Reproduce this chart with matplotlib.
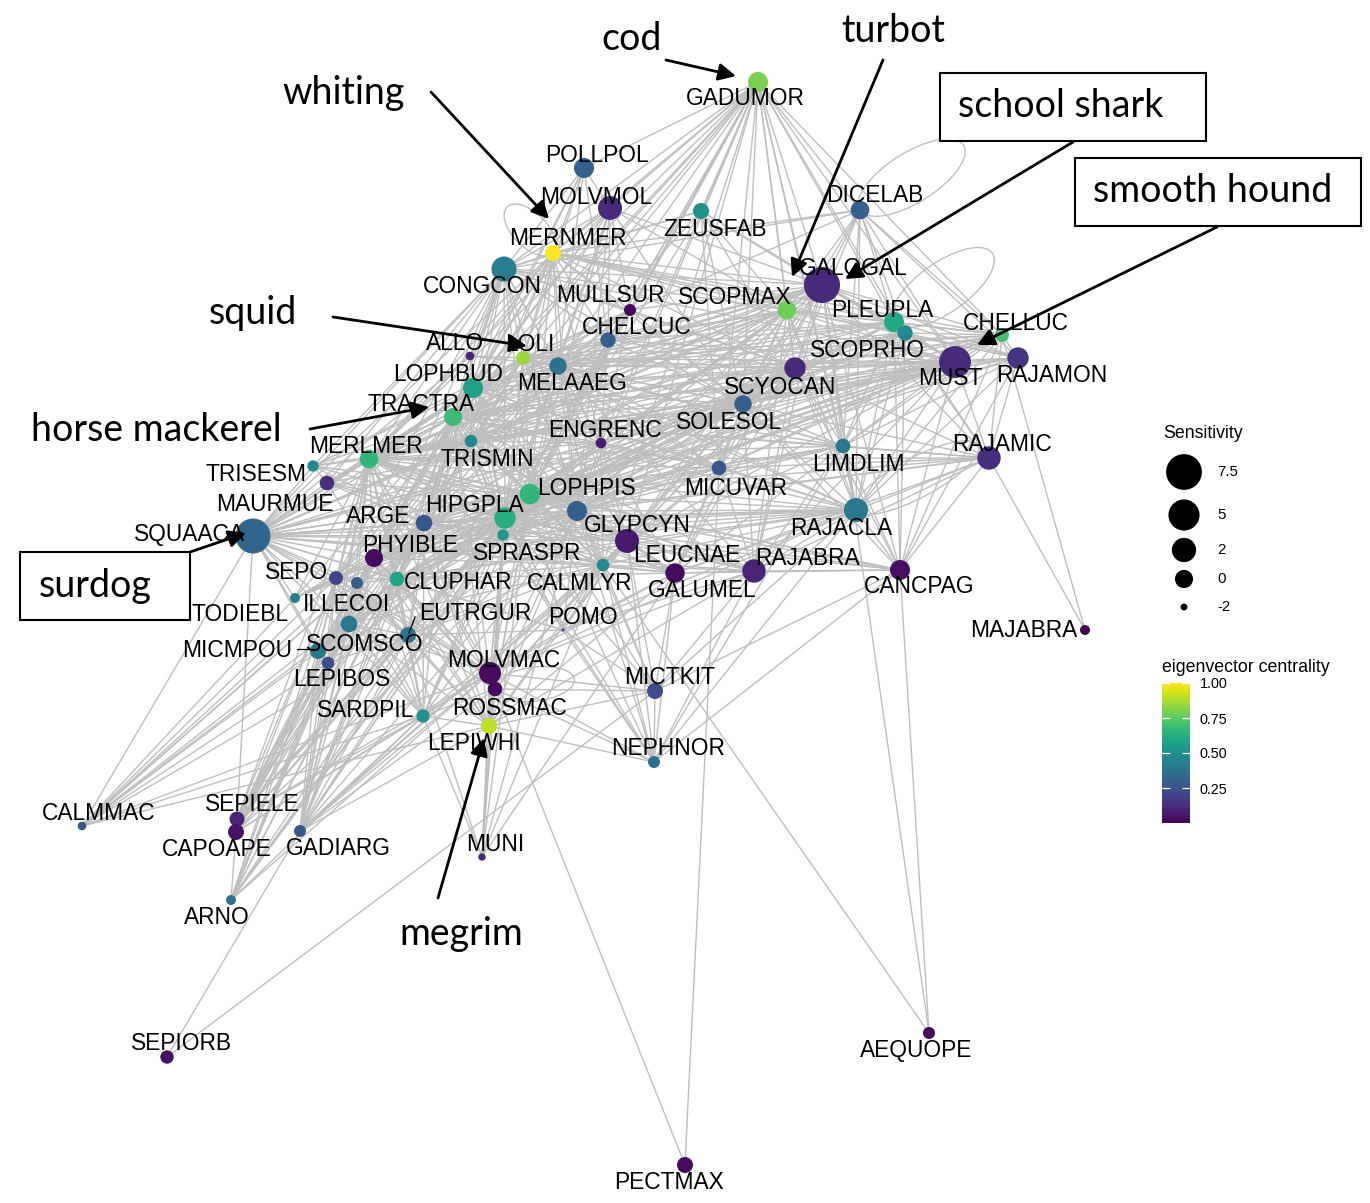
import numpy as np
import matplotlib
matplotlib.use("Agg")
import matplotlib.pyplot as plt
from matplotlib.collections import LineCollection
from matplotlib.patches import Ellipse, Rectangle
from matplotlib.cm import ScalarMappable
from matplotlib.colors import Normalize

# ---- node table -------------------------------------------------------------
species = ["GADUMOR", "POLLPOL", "MOLVMOL", "ZEUSFAB", "DICELAB", "MERNMER",
           "CONGCON", "GALOGAL", "MULLSUR", "SCOPMAX", "PLEUPLA", "SCOPRHO",
           "CHELCUC", "CHELLUC", "MUST", "RAJAMON", "ALLO", "LOLI", "MELAAEG",
           "LOPHBUD", "SCYOCAN", "TRACTRA", "SOLESOL", "TRISMIN", "MERLMER",
           "ENGRENC", "LIMDLIM", "RAJAMIC", "TRISESM", "MAURMUE", "MICUVAR",
           "LOPHPIS", "HIPGPLA", "GLYPCYN", "RAJACLA", "SQUAACA", "ARGE",
           "SPRASPR", "LEUCNAE", "PHYIBLE", "CALMLYR", "GALUMEL", "RAJABRA",
           "CANCPAG", "SEPO", "ILLECOI", "CLUPHAR", "TODIEBL", "SCOMSCO",
           "EUTRGUR", "POMO", "MICMPOU", "LEPIBOS", "MOLVMAC", "ROSSMAC",
           "LEPIWHI", "SARDPIL", "MICTKIT", "NEPHNOR", "MAJABRA", "CALMMAC",
           "SEPIELE", "CAPOAPE", "GADIARG", "ARNO", "MUNI", "SEPIORB",
           "AEQUOPE", "PECTMAX"]

# graph layout coordinates
layout_x = [758, 584, 610, 701, 860, 553, 504, 822, 630, 787, 894, 905,
            608, 1002, 955, 1018, 470, 523, 558, 473, 795, 453, 743, 471, 369,
            601, 843, 989, 313, 327, 719, 530, 505, 577, 856, 253, 424, 503,
            627, 374, 603, 675, 754, 900, 336, 357, 397, 295, 349, 408, 563,
            318, 328, 490, 495, 489, 423, 655, 654, 1085, 82, 237, 236, 300,
            231, 482, 167, 929, 685]
layout_y = [82, 168, 208, 211, 210, 253, 269, 285, 310, 310, 322, 333, 340,
            335, 362, 358, 356, 358, 366, 388, 368, 417, 404, 441, 459, 443,
            446, 458, 466, 483, 468, 494, 518, 511, 510, 536, 523, 535, 541,
            558, 565, 573, 571, 570, 578, 583, 579, 598, 624, 635, 630, 651,
            663, 673, 689, 726, 716, 691, 762, 630, 826, 819, 832, 831, 900,
            857, 1057, 1033, 1165]

sensitivity = [0.55, 0.55, 1.9, -0.54, 0.14, -0.54, 2.3, 7.6, -1.35, 0.14,
               0.55, -0.68, -0.68, -0.98, 5.4, 0.99, -1.83, -0.98, -0.19,
               0.55, 0.99, -0.03, -0.19, -1.25, 0.14, -1.57, -0.85, 1.68,
               -1.45, -0.85, -0.85, 0.73, 0.99, 0.55, 1.9, 7.0, -0.39, -1.45,
               1.9, -0.03, -1.25, 0.37, 1.68, 0.55, -0.98, -1.35, -0.85,
               -1.66, -0.39, -0.54, -2.19, -0.54, -1.25, 1.19, -0.85, -0.54,
               -1.1, -0.54, -1.35, -1.66, -1.83, -0.77, -0.54, -1.35, -1.66,
               -1.95, -1.1, -1.35, -0.54]

centrality = [0.80, 0.30, 0.12, 0.50, 0.30, 1.00, 0.42, 0.12, 0.02, 0.78,
              0.60, 0.47, 0.30, 0.70, 0.12, 0.15, 0.10, 0.85, 0.37, 0.56,
              0.12, 0.68, 0.30, 0.47, 0.66, 0.08, 0.40, 0.13, 0.48, 0.13,
              0.27, 0.66, 0.63, 0.30, 0.40, 0.33, 0.26, 0.52, 0.07, 0.03,
              0.48, 0.03, 0.10, 0.04, 0.20, 0.30, 0.58, 0.42, 0.40, 0.38,
              0.20, 0.40, 0.23, 0.03, 0.02, 0.90, 0.50, 0.23, 0.37, 0.00,
              0.27, 0.10, 0.05, 0.27, 0.37, 0.12, 0.04, 0.03, 0.03]

# repelled label centres
label_x = [745, 597, 596, 715, 875, 568, 482, 853, 610, 735, 882, 867, 637,
           1016, 950, 1052, 455, 530, 572, 448, 780, 421, 729, 487, 366, 605,
           858, 1002, 256, 275, 736, 586, 474, 637, 841, 189, 378, 527, 687,
           410, 580, 702, 807, 919, 297, 347, 458, 240, 365, 475, 583, 237,
           342, 504, 510, 474, 366, 670, 668, 1024, 99, 252, 217, 338, 217,
           495, 181, 916, 669]
label_y = [97, 154, 196, 228, 194, 237, 285, 267, 294, 296, 309, 349, 326,
           322, 377, 374, 342, 343, 382, 373, 386, 403, 421, 458, 445, 429,
           463, 443, 473, 503, 487, 487, 504, 524, 527, 533, 515, 552, 554,
           544, 582, 589, 557, 585, 571, 603, 581, 613, 643, 612, 616, 649,
           678, 659, 707, 742, 709, 676, 747, 629, 812, 803, 848, 847, 916,
           843, 1042, 1049, 1181]

# ---- edges (source, space-separated targets) --------------------------------
edge_list = [
    ("GADUMOR", "POLLPOL MOLVMOL MERNMER CONGCON LOLI MELAAEG CHELCUC MULLSUR "
                "ZEUSFAB SCOPMAX GALOGAL DICELAB PLEUPLA SCOPRHO MUST CHELLUC "
                "SCYOCAN SOLESOL MICUVAR LIMDLIM ENGRENC LOPHPIS GLYPCYN TRACTRA "
                "LOPHBUD HIPGPLA RAJACLA LEUCNAE MERLMER TRISMIN SPRASPR CALMLYR"),
    ("POLLPOL", "MERNMER CONGCON MOLVMOL LOLI LOPHBUD MELAAEG TRACTRA CHELCUC"),
    ("MOLVMOL", "MERNMER CONGCON LOLI MELAAEG CHELCUC MULLSUR SCOPMAX GALOGAL "
                "TRACTRA LOPHBUD HIPGPLA LOPHPIS SOLESOL GLYPCYN MERLMER"),
    ("ZEUSFAB", "MERNMER SCOPMAX GALOGAL SOLESOL MICUVAR LOPHPIS CONGCON "
                "MELAAEG SCYOCAN MUST"),
    ("DICELAB", "GALOGAL SCOPMAX PLEUPLA SCOPRHO MUST CHELLUC LIMDLIM RAJACLA "
                "MERNMER SCYOCAN SOLESOL CONGCON RAJAMON LOLI"),
    ("MERNMER", "CONGCON LOLI MELAAEG CHELCUC MULLSUR SCOPMAX GALOGAL PLEUPLA "
                "MUST TRACTRA LOPHBUD MERLMER SQUAACA HIPGPLA LOPHPIS GLYPCYN "
                "SOLESOL SCYOCAN ENGRENC TRISMIN ARGE ALLO SCOPRHO CHELLUC"),
    ("CONGCON", "LOLI ALLO LOPHBUD TRACTRA MERLMER TRISESM MAURMUE SQUAACA "
                "MELAAEG CHELCUC MULLSUR SCOPMAX GALOGAL HIPGPLA LOPHPIS TRISMIN "
                "ARGE PHYIBLE ENGRENC SCYOCAN MUST SOLESOL GLYPCYN CLUPHAR SEPO"),
    ("GALOGAL", "SCOPMAX PLEUPLA SCOPRHO MUST CHELLUC RAJAMON SCYOCAN SOLESOL "
                "LIMDLIM RAJACLA MICUVAR MELAAEG CHELCUC MULLSUR LOLI LOPHBUD "
                "TRACTRA HIPGPLA LOPHPIS GLYPCYN ENGRENC LEUCNAE RAJABRA TRISMIN "
                "MERLMER SQUAACA CANCPAG RAJAMIC GALUMEL ARGE"),
    ("SCOPMAX", "PLEUPLA SCOPRHO MUST CHELLUC RAJAMON SCYOCAN SOLESOL MICUVAR "
                "LIMDLIM RAJACLA MELAAEG CHELCUC LOLI TRACTRA LOPHBUD HIPGPLA "
                "LOPHPIS GLYPCYN MERLMER SQUAACA ENGRENC RAJABRA LEUCNAE TRISMIN "
                "ARGE SPRASPR"),
    ("PLEUPLA", "SCOPRHO MUST CHELLUC RAJAMON SCYOCAN SOLESOL LIMDLIM RAJACLA "
                "MELAAEG LOLI TRACTRA LOPHBUD MERLMER CHELCUC HIPGPLA LOPHPIS "
                "RAJAMIC CANCPAG"),
    ("SCOPRHO", "MUST CHELLUC RAJAMON SCYOCAN LIMDLIM RAJACLA SOLESOL LOPHPIS "
                "HIPGPLA TRACTRA MERLMER MELAAEG RAJAMIC CANCPAG GLYPCYN"),
    ("MUST", "CHELLUC RAJAMON RAJAMIC SCYOCAN SOLESOL LIMDLIM RAJACLA MICUVAR "
             "LOPHPIS HIPGPLA TRACTRA MERLMER LOPHBUD MELAAEG LOLI CHELCUC "
             "GLYPCYN SQUAACA TRISMIN ENGRENC ARGE SPRASPR PHYIBLE CLUPHAR "
             "LEUCNAE RAJABRA CANCPAG MAURMUE TRISESM"),
    ("CHELLUC", "RAJAMON RAJAMIC SCYOCAN SOLESOL LIMDLIM RAJACLA LOPHPIS "
                "HIPGPLA TRACTRA MERLMER MELAAEG LOLI MICUVAR SQUAACA CANCPAG "
                "MAJABRA"),
    ("RAJAMON", "RAJAMIC SCYOCAN LIMDLIM RAJACLA SOLESOL HIPGPLA LOPHPIS "
                "CANCPAG MERLMER TRACTRA"),
    ("RAJAMIC", "LIMDLIM RAJACLA SOLESOL SCYOCAN MICUVAR CANCPAG MAJABRA "
                "LOPHPIS HIPGPLA RAJABRA GLYPCYN MERLMER TRACTRA GALUMEL"),
    ("CHELCUC", "LOLI MELAAEG LOPHBUD TRACTRA MERLMER MULLSUR HIPGPLA LOPHPIS "
                "SOLESOL SCYOCAN ENGRENC TRISMIN GLYPCYN ARGE"),
    ("MULLSUR", "LOLI MELAAEG TRACTRA LOPHBUD SCYOCAN SOLESOL HIPGPLA LOPHPIS "
                "MERLMER ENGRENC TRISMIN"),
    ("LOLI", "ALLO MELAAEG LOPHBUD TRACTRA MERLMER TRISMIN HIPGPLA LOPHPIS "
             "SQUAACA ARGE PHYIBLE SPRASPR ENGRENC GLYPCYN SCYOCAN SOLESOL "
             "MICUVAR LIMDLIM RAJACLA CLUPHAR SEPO TRISESM MAURMUE LEUCNAE CALMLYR"),
    ("ALLO", "LOPHBUD TRACTRA MERLMER SQUAACA MELAAEG HIPGPLA"),
    ("MELAAEG", "LOPHBUD TRACTRA MERLMER TRISMIN HIPGPLA LOPHPIS GLYPCYN "
                "ENGRENC SCYOCAN SOLESOL MICUVAR LIMDLIM RAJACLA SQUAACA ARGE "
                "PHYIBLE SPRASPR CLUPHAR LEUCNAE CALMLYR GALUMEL RAJABRA"),
    ("LOPHBUD", "TRACTRA MERLMER TRISMIN TRISESM MAURMUE SQUAACA HIPGPLA "
                "LOPHPIS ARGE PHYIBLE SPRASPR GLYPCYN ENGRENC SCYOCAN SOLESOL "
                "MICUVAR CLUPHAR SEPO ILLECOI LEUCNAE CALMLYR RAJACLA LIMDLIM"),
    ("TRACTRA", "MERLMER TRISMIN TRISESM MAURMUE SQUAACA HIPGPLA LOPHPIS ARGE "
                "PHYIBLE SPRASPR GLYPCYN ENGRENC SCYOCAN SOLESOL MICUVAR LIMDLIM "
                "RAJACLA CLUPHAR SEPO ILLECOI TODIEBL SCOMSCO EUTRGUR LEUCNAE "
                "CALMLYR GALUMEL RAJABRA MOLVMAC SARDPIL LEPIWHI MICMPOU"),
    ("TRISMIN", "MERLMER HIPGPLA LOPHPIS ARGE SPRASPR PHYIBLE GLYPCYN ENGRENC "
                "SOLESOL CLUPHAR SQUAACA SEPO CALMLYR LEUCNAE"),
    ("MERLMER", "TRISESM MAURMUE SQUAACA HIPGPLA LOPHPIS ARGE PHYIBLE SPRASPR "
                "GLYPCYN ENGRENC SCYOCAN SOLESOL MICUVAR LIMDLIM RAJACLA CLUPHAR "
                "SEPO ILLECOI TODIEBL SCOMSCO MICMPOU LEPIBOS EUTRGUR CALMLYR "
                "LEUCNAE GALUMEL RAJABRA CANCPAG MOLVMAC ROSSMAC LEPIWHI SARDPIL"),
    ("ENGRENC", "HIPGPLA LOPHPIS GLYPCYN SOLESOL SCYOCAN MICUVAR ARGE SPRASPR "
                "CLUPHAR LEUCNAE CALMLYR"),
    ("SCYOCAN", "SOLESOL MICUVAR LIMDLIM RAJACLA LOPHPIS HIPGPLA GLYPCYN "
                "LEUCNAE RAJABRA GALUMEL ARGE SQUAACA SPRASPR CANCPAG CALMLYR "
                "CLUPHAR PHYIBLE"),
    ("SOLESOL", "MICUVAR LIMDLIM RAJACLA LOPHPIS HIPGPLA GLYPCYN LEUCNAE "
                "RAJABRA GALUMEL ARGE SQUAACA SPRASPR CALMLYR CLUPHAR PHYIBLE "
                "SEPO CANCPAG"),
    ("LIMDLIM", "RAJACLA MICUVAR LOPHPIS HIPGPLA GLYPCYN RAJABRA CANCPAG "
                "LEUCNAE GALUMEL SQUAACA NEPHNOR"),
    ("MICUVAR", "RAJACLA LOPHPIS HIPGPLA GLYPCYN LEUCNAE RAJABRA GALUMEL "
                "CALMLYR SPRASPR ARGE PECTMAX"),
    ("RAJACLA", "LOPHPIS HIPGPLA GLYPCYN LEUCNAE RAJABRA GALUMEL CANCPAG "
                "CALMLYR SPRASPR ARGE PHYIBLE CLUPHAR SQUAACA MICTKIT NEPHNOR "
                "MOLVMAC POMO"),
    ("TRISESM", "SQUAACA MAURMUE HIPGPLA ARGE LOPHPIS"),
    ("MAURMUE", "SQUAACA HIPGPLA ARGE PHYIBLE LOPHPIS SPRASPR"),
    ("SQUAACA", "ARGE PHYIBLE HIPGPLA LOPHPIS SPRASPR GLYPCYN CLUPHAR SEPO "
                "ILLECOI TODIEBL SCOMSCO MICMPOU LEPIBOS EUTRGUR CALMLYR LEUCNAE "
                "GALUMEL RAJABRA POMO MOLVMAC SARDPIL CALMMAC SEPIELE"),
    ("LOPHPIS", "HIPGPLA GLYPCYN ARGE SPRASPR PHYIBLE CLUPHAR LEUCNAE CALMLYR "
                "GALUMEL RAJABRA CANCPAG SEPO ILLECOI SCOMSCO EUTRGUR POMO "
                "MOLVMAC ROSSMAC LEPIWHI SARDPIL MICTKIT NEPHNOR LEPIBOS MICMPOU "
                "TODIEBL"),
    ("HIPGPLA", "GLYPCYN ARGE SPRASPR PHYIBLE CLUPHAR LEUCNAE CALMLYR GALUMEL "
                "RAJABRA CANCPAG SEPO ILLECOI SCOMSCO EUTRGUR POMO MOLVMAC "
                "ROSSMAC LEPIWHI SARDPIL MICTKIT NEPHNOR LEPIBOS MICMPOU TODIEBL "
                "GADIARG ARNO"),
    ("GLYPCYN", "ARGE SPRASPR PHYIBLE CLUPHAR LEUCNAE CALMLYR GALUMEL RAJABRA "
                "CANCPAG EUTRGUR POMO MOLVMAC ROSSMAC LEPIWHI SARDPIL MICTKIT "
                "NEPHNOR SCOMSCO"),
    ("ARGE", "SPRASPR PHYIBLE CLUPHAR SEPO ILLECOI TODIEBL SCOMSCO MICMPOU "
             "LEPIBOS EUTRGUR CALMLYR LEUCNAE MOLVMAC SARDPIL LEPIWHI"),
    ("SPRASPR", "PHYIBLE CLUPHAR CALMLYR LEUCNAE GALUMEL EUTRGUR POMO MOLVMAC "
                "ROSSMAC LEPIWHI SARDPIL SCOMSCO NEPHNOR"),
    ("PHYIBLE", "CLUPHAR SEPO ILLECOI TODIEBL SCOMSCO MICMPOU LEPIBOS EUTRGUR "
                "CALMLYR MOLVMAC SARDPIL LEPIWHI ROSSMAC"),
    ("CLUPHAR", "SEPO ILLECOI SCOMSCO MICMPOU LEPIBOS EUTRGUR CALMLYR LEUCNAE "
                "GALUMEL MOLVMAC ROSSMAC SARDPIL LEPIWHI POMO"),
    ("LEUCNAE", "CALMLYR GALUMEL RAJABRA CANCPAG POMO MOLVMAC ROSSMAC LEPIWHI "
                "MICTKIT NEPHNOR EUTRGUR SARDPIL"),
    ("CALMLYR", "GALUMEL RAJABRA POMO MOLVMAC ROSSMAC LEPIWHI MICTKIT NEPHNOR "
                "EUTRGUR SCOMSCO AEQUOPE"),
    ("GALUMEL", "RAJABRA CANCPAG POMO MOLVMAC LEPIWHI MICTKIT NEPHNOR"),
    ("RAJABRA", "CANCPAG MICTKIT NEPHNOR MOLVMAC LEPIWHI POMO"),
    ("CANCPAG", "MICTKIT AEQUOPE NEPHNOR"),
    ("SEPO", "ILLECOI TODIEBL SCOMSCO MICMPOU LEPIBOS EUTRGUR SARDPIL MOLVMAC"),
    ("ILLECOI", "SCOMSCO MICMPOU LEPIBOS EUTRGUR SARDPIL MOLVMAC LEPIWHI"),
    ("EUTRGUR", "SCOMSCO MICMPOU LEPIBOS SARDPIL MOLVMAC ROSSMAC LEPIWHI POMO"),
    ("SCOMSCO", "MICMPOU LEPIBOS SARDPIL MOLVMAC LEPIWHI"),
    ("MOLVMAC", "ROSSMAC LEPIWHI SARDPIL MICTKIT NEPHNOR POMO"),
    ("ROSSMAC", "LEPIWHI SARDPIL MICTKIT NEPHNOR PECTMAX"),
    ("LEPIWHI", "SARDPIL MICTKIT NEPHNOR MUNI"),
    ("MICTKIT", "NEPHNOR POMO SEPIORB"),
    ("CALMMAC", "SQUAACA SEPO TODIEBL ILLECOI SCOMSCO MICMPOU LEPIBOS SARDPIL "
                "PHYIBLE ARGE CLUPHAR EUTRGUR LEPIWHI MOLVMAC"),
    ("SEPIELE", "SEPO ILLECOI SCOMSCO LEPIBOS SARDPIL PHYIBLE ARGE CLUPHAR "
                "EUTRGUR MOLVMAC HIPGPLA LOPHPIS TRACTRA MERLMER"),
    ("CAPOAPE", "SEPO ILLECOI SCOMSCO LEPIBOS SARDPIL PHYIBLE ARGE CLUPHAR "
                "EUTRGUR MOLVMAC HIPGPLA GLYPCYN"),
    ("GADIARG", "SEPO ILLECOI SCOMSCO LEPIBOS SARDPIL PHYIBLE ARGE CLUPHAR "
                "EUTRGUR MOLVMAC ROSSMAC LEPIWHI LOPHPIS GLYPCYN SPRASPR CALMLYR "
                "TRISMIN MERLMER TRACTRA LEUCNAE MICMPOU SEPIORB"),
    ("ARNO", "SEPO ILLECOI SCOMSCO LEPIBOS SARDPIL PHYIBLE ARGE CLUPHAR "
             "EUTRGUR MOLVMAC LOPHPIS SPRASPR MICMPOU SEPIELE"),
    ("MUNI", "ROSSMAC MOLVMAC SARDPIL GLYPCYN SPRASPR CALMLYR LOPHPIS EUTRGUR "
             "GALUMEL"),
    ("AEQUOPE", "GALOGAL"),
    ("NEPHNOR", "POMO HIPGPLA"),
]

# self-loops: node, direction (deg), loop length, loop width
loop_nodes = ["DICELAB", "PLEUPLA", "MERNMER", "RAJACLA", "ROSSMAC"]
loop_angle = [-32, -35, -135, -28, -7]
loop_length = [122, 120, 65, 138, 80]
loop_width = [50, 50, 34, 40, 34]

# size legend
legend_values = [7.5, 5, 2, 0, -2]
legend_labels = ["7.5", "5", "2", "0", "-2"]

# callouts
callout_text = ["cod", "turbot", "whiting", "squid", "horse mackerel",
                "school shark", "smooth hound", "surdog", "megrim"]

# ---- drawing ------------------------------------------------------------------
W, H, DPI = 1370, 1203, 100
SIZE_MIN, SIZE_MAX = -2.2, 7.6
EDGE_COLOUR = "#BEBEBE"
EDGE_WIDTH = 1.0
LABEL_FONT = ["Liberation Sans", "DejaVu Sans"]
NOTE_FONT = ["Lato", "DejaVu Sans"]


def diameter_px(v):
    frac = np.clip((np.asarray(v, float) - SIZE_MIN) / (SIZE_MAX - SIZE_MIN), 0, 1)
    return 2.0 + 34.0 * np.sqrt(frac)


def marker_area(v):
    return (diameter_px(v) * 72.0 / DPI) ** 2


pos = {n: (x, y) for n, x, y in zip(species, layout_x, layout_y)}

fig = plt.figure(figsize=(W / DPI, H / DPI), dpi=DPI)
ax = fig.add_axes([0, 0, 1, 1])
ax.set_xlim(0, W)
ax.set_ylim(H, 0)
ax.axis("off")

# edges
pairs = set()
for src, targets in edge_list:
    for tgt in targets.split():
        if tgt != src:
            pairs.add(tuple(sorted((src, tgt))))
segments = [[pos[a], pos[b]] for a, b in sorted(pairs)]
ax.add_collection(LineCollection(segments, colors=EDGE_COLOUR,
                                 linewidths=EDGE_WIDTH, zorder=1))

for node, ang, length, width in zip(loop_nodes, loop_angle, loop_length, loop_width):
    x0, y0 = pos[node]
    t = np.deg2rad(ang)
    centre = (x0 + 0.5 * length * np.cos(t), y0 + 0.5 * length * np.sin(t))
    ax.add_patch(Ellipse(centre, length, width, angle=ang, fill=False,
                         edgecolor=EDGE_COLOUR, linewidth=EDGE_WIDTH, zorder=1))

# nodes
ax.scatter(layout_x, layout_y, s=marker_area(sensitivity), c=centrality,
           cmap="viridis", vmin=0, vmax=1, linewidths=0, zorder=3)

# node labels (baseline placed so the caps centre on the label position)
for name, lx, ly in zip(species, label_x, label_y):
    ax.text(lx, ly + 8.2, name, ha="center", va="baseline", fontsize=16.4,
            family=LABEL_FONT, color="black", zorder=4)

# label leader segments
ax.plot([415, 409], [617, 633], color="black", lw=0.9, zorder=4)
ax.plot([297, 317], [649, 649], color="black", lw=0.9, zorder=4)

# callouts
note_pos = [(632, 39), (893, 31), (344, 93), (253, 313), (156, 430),
            (1061, 106), (1213, 191), (95, 586), (461, 934)]
arrow_tail = [(666, 60), (883, 60), (431, 92), (333, 317), (310, 429),
              (1073, 142), (1217, 227), (190, 552), (438, 898)]
arrow_head = [(736, 76), (792, 277), (549, 219), (527, 346), (429, 407),
              (845, 279), (977, 345), (246, 533), (484, 738)]
frames = {"school shark": (940, 73, 266, 68),
          "smooth hound": (1075, 158, 286, 68),
          "surdog": (20, 552, 170, 68)}

for txt, (tx, ty), tail, head in zip(callout_text, note_pos, arrow_tail, arrow_head):
    ax.text(tx, ty, txt, ha="center", va="center", fontsize=27,
            family=NOTE_FONT, color="black", zorder=6)
    ax.annotate("", xy=head, xytext=tail,
                arrowprops=dict(arrowstyle="-|>", color="black", lw=2.0,
                                mutation_scale=26, shrinkA=0, shrinkB=0),
                zorder=6)
    if txt in frames:
        fx, fy, fw, fh = frames[txt]
        ax.add_patch(Rectangle((fx, fy), fw, fh, fill=True, facecolor="white",
                               edgecolor="black", linewidth=1.5, zorder=5))

# size legend
ax.text(1163, 433, "Sensitivity", ha="left", va="center", fontsize=12.8,
        family=LABEL_FONT)
legend_y = [472, 515, 550, 579, 607]
ax.scatter([1184] * len(legend_values), legend_y, s=marker_area(legend_values),
           color="black", linewidths=0, zorder=3)
for lab, ly in zip(legend_labels, legend_y):
    ax.text(1217, ly, lab, ha="left", va="center", fontsize=10.8,
            family=LABEL_FONT)

# colour legend
ax.text(1162, 667, "eigenvector centrality", ha="left", va="center",
        fontsize=12.8, family=LABEL_FONT)
cax = fig.add_axes([1162 / W, 1 - 823 / H, 28 / W, 140 / H])
sm = ScalarMappable(norm=Normalize(0, 1), cmap="viridis")
cb = fig.colorbar(sm, cax=cax, ticks=[0.25, 0.5, 0.75, 1.0])
cb.outline.set_visible(False)
cb.ax.set_yticklabels(["0.25", "0.50", "0.75", "1.00"], family=LABEL_FONT)
cb.ax.tick_params(which="both", left=True, right=True, direction="in",
                  length=5.5, width=0.9, color="white", labelsize=10.4, pad=7)

fig.savefig("out.png", dpi=DPI, facecolor="white")
